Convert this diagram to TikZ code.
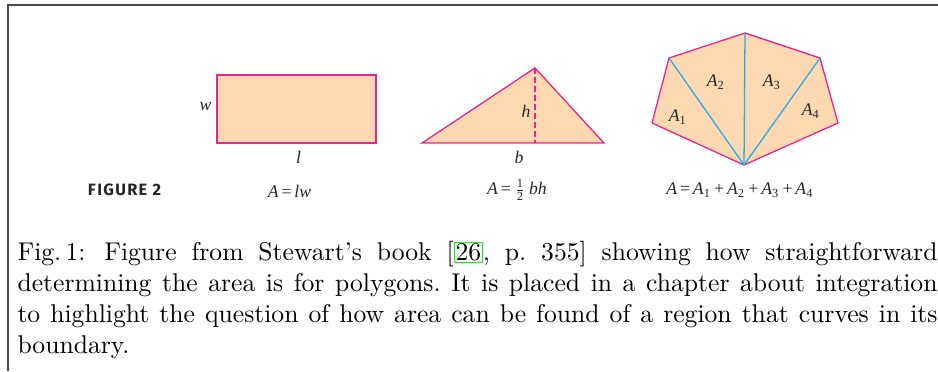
\documentclass[tikz,border=0pt]{standalone}
\usepackage{amsmath}
\usepackage{xcolor}
\usepackage{fontspec}
\newfontfamily\bookfont{Liberation Serif}
\newfontfamily\capsfont[LetterSpace=8]{Fira Sans}
\usetikzlibrary{positioning}

\definecolor{peach}{HTML}{FCD9B1}
\definecolor{edgepink}{HTML}{E8238C}
\definecolor{cutblue}{HTML}{2AAAE0}
\definecolor{framegray}{HTML}{4A4A4A}
\definecolor{linkgreen}{HTML}{00FF00}
\definecolor{inkgray}{HTML}{262626}

\newcommand{\var}[1]{{\bookfont\itshape #1}}
\newcommand{\rom}[1]{{\bookfont\upshape #1}}
\newcommand{\Ai}[1]{\var{A\textsubscript{\upshape #1}}}
\newcommand{\citebox}[1]{{\setlength{\fboxsep}{0.2pt}\setlength{\fboxrule}{0.5pt}\fcolorbox{linkgreen}{white}{#1}}}

\begin{document}
\begin{tikzpicture}[x=0.39pt, y=-0.39pt, >=latex]
\tikzstyle{region}=[draw=edgepink, fill=peach, line width=0.5pt]
\tikzstyle{cut}=[draw=cutblue, line width=0.5pt]
\tikzstyle{lbl}=[inner sep=0pt, text=inkgray, font=\fontsize{6.9}{8}\selectfont]

\useasboundingbox (0,0) rectangle (938,371);
\draw[framegray, line width=0.75pt] (8.3,371) -- (8.3,4.7) -- (938,4.7);

% rectangle
\draw[region] (217,75) rectangle (376,143);
\node[lbl] (w) at (205.5,107) {\var{w}};
\node[lbl] (l) at (298.7,157) {\var{l}};

% triangle with its height
\coordinate (tl) at (422,143);
\coordinate (tr) at (604,143);
\coordinate (tt) at (535,68);
\coordinate (tf) at (535,143);
\draw[region] (tl) -- (tr) -- (tt) -- cycle;
\draw[edgepink, line width=0.5pt, dash pattern=on 2.3pt off 1.2pt] (tt) -- (tf);
\node[lbl] (h) at (526,111) {\var{h}};
\node[lbl] (b) at (519,157) {\var{b}};

% polygon cut into four triangles
\coordinate (p0) at (744,165);
\coordinate (p1) at (652,123);
\coordinate (p2) at (669,58);
\coordinate (p3) at (745,33);
\coordinate (p4) at (820,58);
\coordinate (p5) at (838,123);
\draw[region] (p0) -- (p1) -- (p2) -- (p3) -- (p4) -- (p5) -- cycle;
\foreach \v in {p2,p3,p4}
  \draw[cut] (p0) -- (\v);
\node[lbl] (A1) at (678,117) {\Ai{1}};
\node[lbl] (A2) at (716,82) {\Ai{2}};
\node[lbl] (A3) at (772,82) {\Ai{3}};
\node[lbl] (A4) at (811,111) {\Ai{4}};

% formulas
\node[lbl, font={\capsfont\bfseries\fontsize{6.4}{8}\selectfont}] (fig) at (124.5,190) {FIGURE 2};
\node[lbl] (Arect) at (289.5,191) {\var{A}\,\rom{=}\,\var{lw}};
\node[lbl] (Atri) at (517,190) {\var{A}\,\rom{=}\,$\frac{\text{\bookfont 1}}{\text{\bookfont 2}}$\,\var{bh}};
\node[lbl] (Apoly) at (740,190) {\var{A}\,\rom{=}\,\Ai{1}\,\rom{+}\,\Ai{2}\,\rom{+}\,\Ai{3}\,\rom{+}\,\Ai{4}};

% caption
\node[anchor=north west, inner sep=0pt, text width=358.8pt, align=justify,
  font=\fontsize{10}{12}\selectfont] (caption) at (17,241)
  {\frenchspacing Fig.\,1:\hspace{1.5pt} Figure from Stewart's book [\citebox{26}, p.~355] showing how straightforward\linebreak
   determining the area is for polygons. It is placed in a chapter about integration\linebreak
   to highlight the question of how area can be found of a region that curves in its\linebreak
   boundary.};
\end{tikzpicture}
\end{document}
